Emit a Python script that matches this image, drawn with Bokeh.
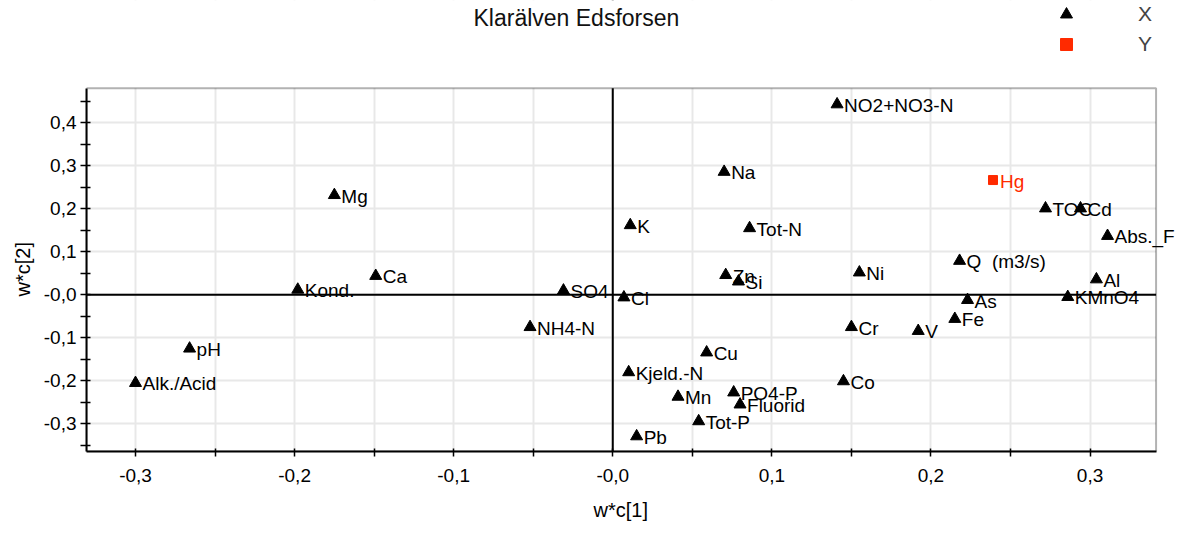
from bokeh.plotting import figure
from bokeh.models import (ColumnDataSource, LabelSet, Label, Span, Range1d, FixedTicker,
                          Legend, LegendItem, CustomJSTickFormatter, BoxAnnotation, Title)
from bokeh.core.properties import value
from bokeh.embed import file_html
from bokeh.resources import INLINE

# PLS loadings w*c[1] / w*c[2], X variables
x_names = ["NO2+NO3-N", "Na", "Mg", "K", "Tot-N", "TOC", "Cd", "Abs._F", "Ca",
           "Kond.", "Zn", "Si", "Ni", "Q\u00a0 (m3/s)", "Al", "SO4", "Cl", "As", "KMnO4",
           "Fe", "NH4-N", "Cr", "V", "pH", "Cu", "Kjeld.-N", "Alk./Acid", "Co",
           "PO4-P", "Mn", "Fluorid", "Tot-P", "Pb"]
x_wc1 = [0.141, 0.070, -0.175, 0.011, 0.086, 0.272, 0.294, 0.311, -0.149,
         -0.198, 0.071, 0.079, 0.155, 0.218, 0.304, -0.031, 0.007, 0.223, 0.286,
         0.215, -0.052, 0.150, 0.192, -0.266, 0.059, 0.010, -0.300, 0.145,
         0.076, 0.041, 0.080, 0.054, 0.015]
x_wc2 = [0.443, 0.286, 0.232, 0.162, 0.155, 0.201, 0.201, 0.137, 0.044,
         0.012, 0.046, 0.031, 0.052, 0.079, 0.036, 0.010, -0.006, -0.012, -0.005,
         -0.056, -0.075, -0.075, -0.084, -0.125, -0.134, -0.180, -0.205, -0.201,
         -0.227, -0.237, -0.255, -0.294, -0.329]

# Y variable
y_names = ["Hg"]
y_wc1 = [0.239]
y_wc2 = [0.267]

x_ticks = [-0.3, -0.2, -0.1, 0.0, 0.1, 0.2, 0.3]
x_tick_labels = ["-0,3", "-0,2", "-0,1", "-0,0", "0,1", "0,2", "0,3"]
x_minor = [-0.25, -0.15, -0.05, 0.05, 0.15, 0.25]
y_ticks = [-0.3, -0.2, -0.1, 0.0, 0.1, 0.2, 0.3, 0.4]
y_tick_labels = ["-0,3", "-0,2", "-0,1", "-0,0", "0,1", "0,2", "0,3", "0,4"]
y_minor = [-0.35, -0.25, -0.15, -0.05, 0.05, 0.15, 0.25, 0.35, 0.45]

# axis box limits; the view extends past them on the top and right so that
# the legend, the title and long point labels can sit outside the box
X_LO, X_HI = -0.3308, 0.3415
Y_LO, Y_HI = -0.3643, 0.4803
X_VIEW_HI = 0.3600
Y_VIEW_HI = 0.6845

FONT = "Liberation Sans"
RED = "#ff2a00"
GRID = "#e8e8e8"

p = figure(width=1185, height=533,
           x_range=Range1d(X_LO, X_VIEW_HI), y_range=Range1d(Y_LO, Y_VIEW_HI),
           output_backend="svg", toolbar_location=None,
           min_border_left=86, min_border_right=0, min_border_top=0, min_border_bottom=81)
p.background_fill_color = "white"
p.border_fill_color = "white"
p.outline_line_color = None

tick_code = """
let best = 0;
for (let i = 0; i < tvals.length; i++) {
  if (Math.abs(tvals[i] - tick) < Math.abs(tvals[best] - tick)) best = i;
}
return tlabels[best];
"""

p.xaxis.ticker = FixedTicker(ticks=x_ticks, minor_ticks=x_minor)
p.xaxis.formatter = CustomJSTickFormatter(args=dict(tvals=x_ticks, tlabels=x_tick_labels), code=tick_code)
p.yaxis.ticker = FixedTicker(ticks=y_ticks, minor_ticks=y_minor)
p.yaxis.formatter = CustomJSTickFormatter(args=dict(tvals=y_ticks, tlabels=y_tick_labels), code=tick_code)
p.xaxis.bounds = (X_LO, X_HI)
p.yaxis.bounds = (Y_LO, Y_HI)

for ax in (p.xaxis, p.yaxis):
    ax.major_label_text_font = FONT
    ax.major_label_text_font_size = "19px"
    ax.major_label_text_color = "black"
    ax.axis_line_color = "black"
    ax.axis_line_width = 2
    ax.major_tick_line_color = "black"
    ax.minor_tick_line_color = "black"
    ax.major_tick_line_width = 1.5
    ax.minor_tick_line_width = 1.5
p.xaxis.major_tick_in = 3
p.xaxis.major_tick_out = 5
p.xaxis.minor_tick_in = 3
p.xaxis.minor_tick_out = 5
p.xaxis.major_label_standoff = 12
p.yaxis.major_tick_in = 4
p.yaxis.major_tick_out = 6
p.yaxis.minor_tick_in = 4
p.yaxis.minor_tick_out = 6
p.yaxis.major_label_standoff = 4

# axis titles, centred on the axis box rather than on the whole view
p.add_layout(Title(text="w*c[1]", text_font=FONT, text_font_size="20px",
                   text_font_style="normal", text_color="black",
                   align="left", offset=507, standoff=25), "below")
p.add_layout(Title(text="w*c[2]", text_font=FONT, text_font_size="20px",
                   text_font_style="normal", text_color="black",
                   align="left", offset=155, standoff=14), "left")

p.xgrid.grid_line_color = GRID
p.xgrid.grid_line_width = 2
p.xgrid.minor_grid_line_color = GRID
p.xgrid.minor_grid_line_width = 2
p.ygrid.grid_line_color = GRID
p.ygrid.grid_line_width = 2

# zero lines
p.add_layout(Span(location=0, dimension="height", line_color="black", line_width=2, level="underlay"))
p.add_layout(Span(location=0, dimension="width", line_color="black", line_width=2, level="underlay"))

# blank out everything beyond the axis box, then draw the box itself
p.add_layout(BoxAnnotation(left=X_HI, fill_color="white", fill_alpha=1, line_alpha=0, level="underlay"))
p.add_layout(BoxAnnotation(bottom=Y_HI, fill_color="white", fill_alpha=1, line_alpha=0, level="underlay"))
p.add_layout(BoxAnnotation(left=X_LO, right=X_HI, bottom=Y_LO, top=Y_HI,
                           fill_alpha=0, line_color="black", line_width=2, level="underlay"))

src_x = ColumnDataSource(dict(w1=x_wc1, w2=x_wc2, name=x_names))
src_y = ColumnDataSource(dict(w1=y_wc1, w2=y_wc2, name=y_names))

r_x = p.scatter("w1", "w2", source=src_x, marker="triangle", size=12,
                fill_color="black", line_color="black")
r_y = p.scatter("w1", "w2", source=src_y, marker="square", size=9,
                fill_color=RED, line_color=RED)

p.add_layout(LabelSet(x="w1", y="w2", text="name", source=src_x, x_offset=7, y_offset=-1,
                      text_baseline="middle", text_font=value(FONT),
                      text_font_size="19px", text_color="black"))
p.add_layout(LabelSet(x="w1", y="w2", text="name", source=src_y, x_offset=7, y_offset=-1,
                      text_baseline="middle", text_font=value(FONT),
                      text_font_size="19px", text_color=RED))

# chart title, placed in screen units from the frame's bottom-left corner
p.add_layout(Label(x=387, y=434, x_units="screen", y_units="screen",
                   text="Klarälven Edsforsen", text_font=FONT, text_font_size="23px",
                   text_color="#111111", text_baseline="middle"))

legend = Legend(items=[LegendItem(label="X", renderers=[r_x]),
                       LegendItem(label="Y", renderers=[r_y])],
                location=(965, 392), orientation="vertical",
                padding=0, margin=0, spacing=0,
                glyph_width=30, glyph_height=30, label_height=30,
                label_standoff=57, label_text_font=FONT, label_text_font_size="21px",
                border_line_alpha=0, background_fill_alpha=0)
p.add_layout(legend)

open("out.html", "w").write(file_html(p, INLINE))
